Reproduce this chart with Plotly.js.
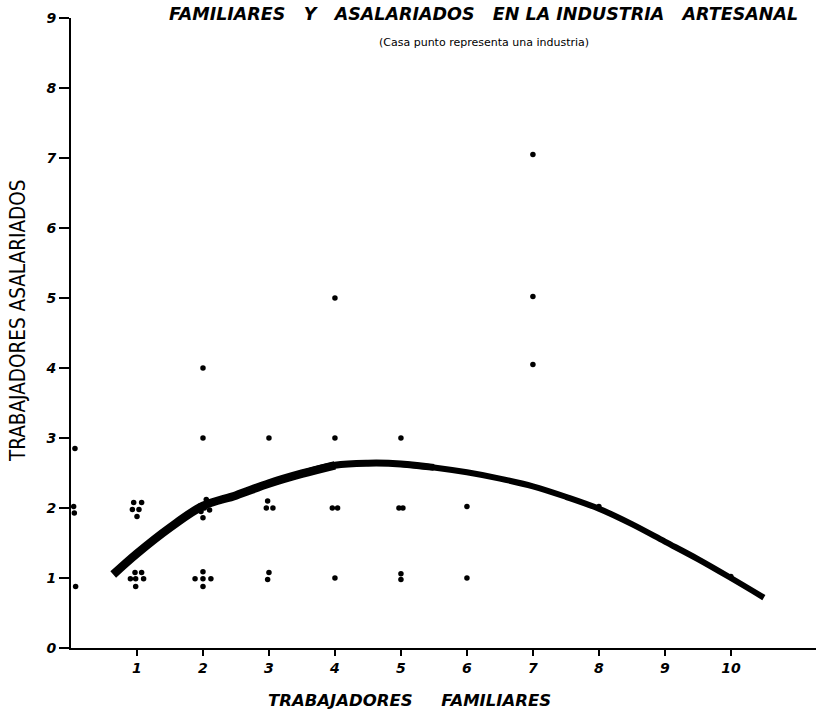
<!DOCTYPE html>
<html>
<head>
<meta charset="utf-8">
<script src="https://cdn.plot.ly/plotly-3.0.1.min.js"></script>
<style>html,body{margin:0;padding:0;background:#fff;}#chart{width:816px;height:711px;}</style>
</head>
<body>
<div id="chart"></div>
<script>
// Industries: family workers (x) vs. wage workers (y); each dot is one industry (positions as drawn, slightly spread)
const dotX = [0.06,0.04,0.05,0.07,
  0.95,1.07,0.93,1.03,1.00,
  0.97,1.07,0.90,0.98,1.10,0.98,
  2.05,1.95,2.02,2.10,1.97,2.00,
  2.00,1.88,2.00,2.12,2.00,
  2.00,2.00,
  3.00,2.98,2.96,3.06,3.00,2.98,
  4.00,4.00,3.96,4.04,4.00,
  5.00,4.97,5.03,5.00,5.00,
  6.00,6.00,
  7.00,7.00,7.00,
  8.00,10.00];
const dotY = [2.85,2.02,1.93,0.88,
  2.08,2.08,1.98,1.98,1.88,
  1.08,1.08,0.99,0.99,0.99,0.88,
  2.12,2.03,2.00,1.97,1.95,1.86,
  1.09,0.99,0.99,0.99,0.88,
  4.00,3.00,
  3.00,2.10,2.00,2.00,1.08,0.98,
  5.00,3.00,2.00,2.00,1.00,
  3.00,2.00,2.00,1.06,0.98,
  2.02,1.00,
  7.05,5.02,4.05,
  2.02,1.02];
// Fitted curve
const curveX = [0.64,1.0,1.5,2.0,2.5,3.0,3.5,4.0,4.5,5.0,5.5,6.0,6.5,7.0,7.5,8.0,8.5,9.0,9.5,10.0,10.5];
const curveY = [1.05,1.35,1.72,2.03,2.18,2.35,2.49,2.61,2.64,2.63,2.58,2.51,2.42,2.31,2.16,1.99,1.77,1.52,1.27,1.00,0.72];
const xTicks = [1,2,3,4,5,6,7,8,9,10];
const xTickText = ['1','2','3','4','5','6','7','8','9','10'];
const yTicks = [0,1,2,3,4,5,6,7,8,9];
const yTickText = ['0','1','2','3','4','5','6','7','8','9'];

const tickFont = {family:'DejaVu Sans, sans-serif', size:14, color:'#000', weight:'bold', style:'italic'};

// stroke tapers from thick (left) to thinner (right)
const segs = [[0,7,8.5],[6,10,7],[9,20,6]];
const traces = segs.map(s => ({
  x: curveX.slice(s[0], s[1]+1), y: curveY.slice(s[0], s[1]+1), mode:'lines',
  line:{color:'#000', width:s[2], shape:'spline'}, hoverinfo:'skip'
}));
traces.push({x: dotX, y: dotY, mode:'markers', marker:{color:'#000', size:5.5}, hoverinfo:'skip'});

const NB = '\u00a0';
const layout = {
  width:816, height:711,
  margin:{l:71, r:0, t:18, b:63},
  paper_bgcolor:'#fff', plot_bgcolor:'#fff',
  showlegend:false,
  xaxis:{range:[0,11.29], showgrid:false, zeroline:false, showline:true, linecolor:'#000', linewidth:2,
    ticks:'outside', ticklen:6, tickwidth:1.5, tickcolor:'#000', tickvals:xTicks, ticktext:xTickText,
    tickfont:tickFont, fixedrange:true},
  yaxis:{range:[0,9], showgrid:false, zeroline:false, showline:true, linecolor:'#000', linewidth:2,
    ticks:'outside', ticklen:10, tickwidth:1.5, tickcolor:'#000', tickvals:yTicks, ticktext:yTickText,
    tickfont:tickFont, fixedrange:true},
  annotations:[
    {xref:'paper', yref:'paper', x:0.554, y:1.0, yshift:4, xanchor:'center', yanchor:'middle', showarrow:false,
      text:'FAMILIARES'+NB+NB+NB+'Y'+NB+NB+NB+'ASALARIADOS'+NB+NB+NB+'EN'+NB+'LA'+NB+'INDUSTRIA'+NB+NB+NB+'ARTESANAL',
      font:{family:'DejaVu Sans, sans-serif', size:17.5, color:'#000', weight:'bold', style:'italic'}},
    {xref:'paper', yref:'paper', x:0.554, y:1.0, yshift:-24, xanchor:'center', yanchor:'middle', showarrow:false,
      text:'(Casa punto representa una industria)',
      font:{family:'DejaVu Sans, sans-serif', size:11, color:'#000'}},
    {xref:'paper', yref:'paper', x:0.455, y:0, yshift:-52, xanchor:'center', yanchor:'middle', showarrow:false,
      text:'TRABAJADORES'+NB+NB+NB+NB+NB+'FAMILIARES',
      font:{family:'DejaVu Sans, sans-serif', size:16.5, color:'#000', weight:'bold', style:'italic'}},
    {xref:'paper', yref:'paper', x:0, xshift:-53, y:0.519, xanchor:'center', yanchor:'middle', showarrow:false,
      textangle:-90, text:'TRABAJADORES ASALARIADOS',
      font:{family:'DejaVu Sans Condensed, DejaVu Sans, sans-serif', size:20.5, color:'#000'}}
  ]
};
Plotly.newPlot('chart', traces, layout, {displayModeBar:false, staticPlot:true});
</script>
</body>
</html>
